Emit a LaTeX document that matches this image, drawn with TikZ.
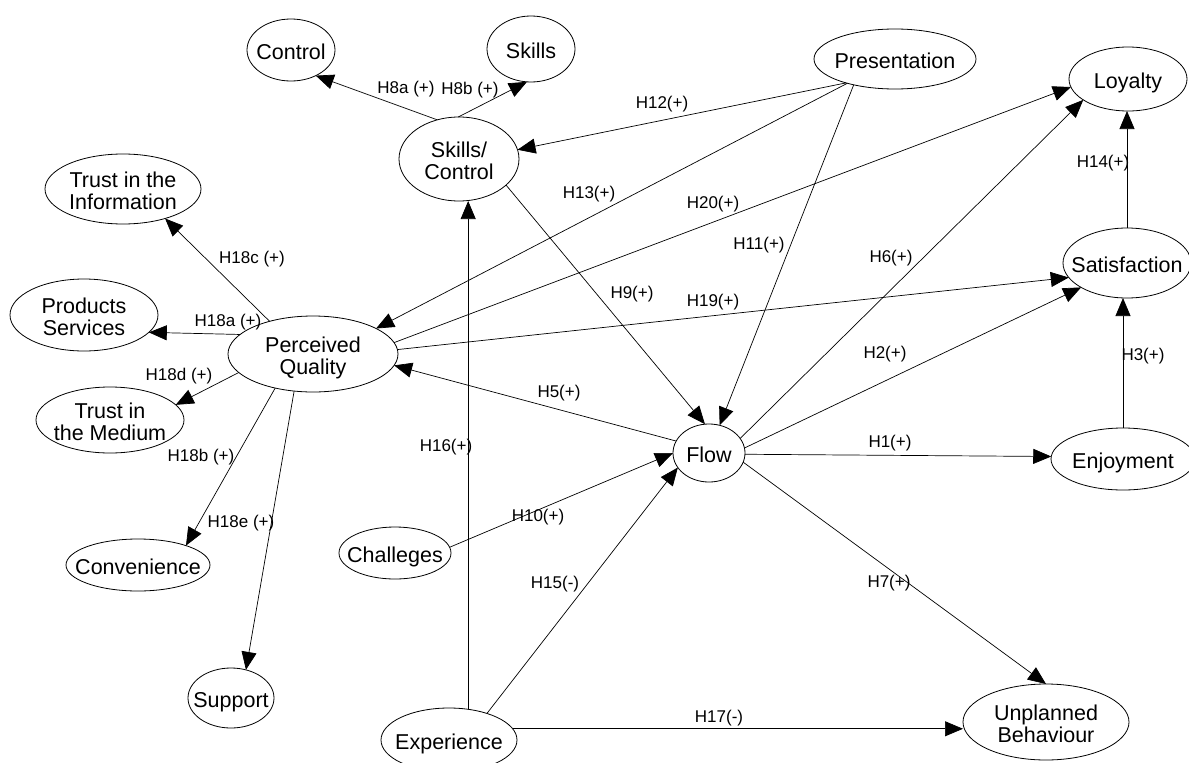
\documentclass[tikz,border=0pt]{standalone}
\usepackage{fontspec}
\setmainfont{Liberation Sans}
\usetikzlibrary{arrows.meta,shapes.geometric}
\newcommand{\zt}[1]{\makebox[0pt][c]{\raisebox{-5pt}[\height][\depth]{\begin{tabular}{@{}c@{}}#1\end{tabular}}}}
\begin{document}
\begin{tikzpicture}[x=1pt,y=-1pt,
  ell/.style={draw, ellipse, line width=0.8pt, inner sep=0pt, outer sep=0pt, font=\fontsize{21.5}{22}\selectfont},
  lab/.style={font=\fontsize{17}{18}\selectfont, inner sep=0pt},
  edge/.style={line width=0.7pt, -{Triangle[length=18pt,width=15pt]}}]
\useasboundingbox (0,0) rectangle (1189,763);
% nodes
\node[ell, minimum width=88pt, minimum height=62pt] (ctrl) at (291,50) {\zt{Control}};
\node[ell, minimum width=88pt, minimum height=66pt] (skl) at (531,49) {\zt{Skills}};
\node[ell, minimum width=162pt, minimum height=60pt] (pres) at (895,59) {\zt{Presentation}};
\node[ell, minimum width=118pt, minimum height=64pt] (loy) at (1128,79) {\zt{Loyalty}};
\node[ell, minimum width=120pt, minimum height=84pt] (sc) at (459,159) {\zt{Skills/\\Control}};
\node[ell, minimum width=156pt, minimum height=70pt] (ti) at (123,189) {\zt{Trust in the\\Information}};
\node[ell, minimum width=128pt, minimum height=70pt] (sat) at (1127,263) {\zt{Satisfaction}};
\node[ell, minimum width=148pt, minimum height=72pt] (ps) at (84,315) {\zt{Products\\Services}};
\node[ell, minimum width=170pt, minimum height=76pt] (pq) at (313,354) {\zt{Perceived\\Quality}};
\node[ell, minimum width=148pt, minimum height=66pt] (tm) at (110,420) {\zt{Trust in\\the Medium}};
\node[ell, minimum width=72pt, minimum height=58pt] (flow) at (709,453) {\zt{Flow}};
\node[ell, minimum width=144pt, minimum height=62pt] (enj) at (1123,459) {\zt{Enjoyment}};
\node[ell, minimum width=112pt, minimum height=52pt] (chal) at (395,553) {\zt{Challeges}};
\node[ell, minimum width=144pt, minimum height=52pt] (conv) at (138,565) {\zt{Convenience}};
\node[ell, minimum width=86pt, minimum height=60pt] (sup) at (231,698) {\zt{Support}};
\node[ell, minimum width=136pt, minimum height=64pt] (exp) at (449,740) {\zt{Experience}};
\node[ell, minimum width=166pt, minimum height=76pt] (unp) at (1046,722) {\zt{Unplanned\\Behaviour}};
% edges
\draw[edge] (sc.119) -- (ctrl.314);
\draw[edge] (sc.91) -- (skl.263);
\draw[edge] (pres.206) -- (sc.9);
\draw[edge] (pres.207) -- (pq.22);
\draw[edge] (pres.212) -- (flow.69);
\draw[edge] (sc.331) -- (flow.98);
\draw[edge] (pq.8) -- (loy.188);
\draw[edge] (pq.3) -- (sat.194);
\draw[edge] (flow.25) -- (loy.205);
\draw[edge] (flow.8) -- (sat.208);
\draw[edge] (flow.358) -- (enj.178);
\draw[edge] (flow.345) -- (unp.90);
\draw[edge] (enj.north) -- (enj.north |- sat.south);
\draw[edge] (sat.north) -- (sat.north |- loy.south);
\draw[edge] (flow.160) -- (pq.352);
\draw[edge] (chal.6) -- (flow.180);
\draw[edge] (exp.35) -- (flow.205);
\draw[edge] (exp.58) -- (exp.58 |- sc.south);
\draw[edge] (exp.10) -- (exp.10 -| unp.west);
\draw[edge] (pq.143) -- (ti.325);
\draw[edge] (pq.165) -- (ps.345);
\draw[edge] (pq.194) -- (tm.13);
\draw[edge] (pq.222) -- (conv.22);
\draw[edge] (pq.243) -- (sup.62);
% labels
\node[lab] (l8a) at (406,89) {H8a (+)};
\node[lab] (l8b) at (470,90) {H8b (+)};
\node[lab] (l12) at (662,104) {H12(+)};
\node[lab] (l13) at (589,194) {H13(+)};
\node[lab] (l20) at (713,204) {H20(+)};
\node[lab] (l11) at (759,245) {H11(+)};
\node[lab] (l9) at (632,294) {H9(+)};
\node[lab] (l19) at (713,302) {H19(+)};
\node[lab] (l6) at (891,258) {H6(+)};
\node[lab] (l2) at (885,354) {H2(+)};
\node[lab] (l3) at (1143,356) {H3(+)};
\node[lab] (l14) at (1103,163) {H14(+)};
\node[lab] (l1) at (890,443) {H1(+)};
\node[lab] (l5) at (559,393) {H5(+)};
\node[lab] (l7) at (889,583) {H7(+)};
\node[lab] (l17) at (719,718) {H17(-)};
\node[lab] (l15) at (555,584) {H15(-)};
\node[lab] (l16) at (446,447) {H16(+)};
\node[lab] (l10) at (538,517) {H10(+)};
\node[lab] (l18c) at (252,259) {H18c (+)};
\node[lab] (l18a) at (228,322) {H18a (+)};
\node[lab] (l18d) at (179,376) {H18d (+)};
\node[lab] (l18b) at (201,457) {H18b (+)};
\node[lab] (l18e) at (241,523) {H18e (+)};
\end{tikzpicture}
\end{document}
